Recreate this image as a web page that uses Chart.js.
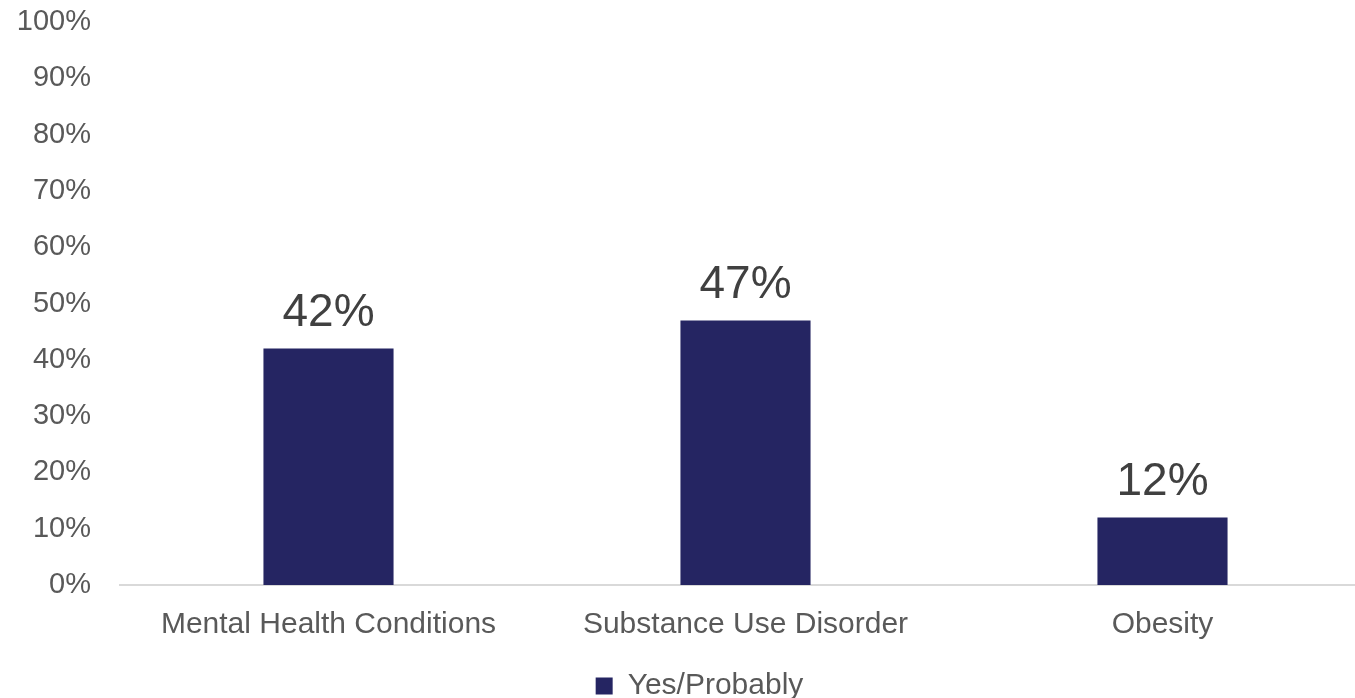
<!DOCTYPE html>
<html>
<head>
<meta charset="utf-8">
<script src="https://cdn.jsdelivr.net/npm/chart.js@4/dist/chart.umd.min.js"></script>
<style>
  html, body { margin: 0; padding: 0; background: #ffffff; overflow: hidden; }
  #wrap { position: relative; width: 1371px; height: 698px; }
</style>
</head>
<body>
<div id="wrap"><canvas id="chart"></canvas></div>
<script>
// Share of respondents answering "Yes/Probably" per condition
const categories = ['Mental Health Conditions', 'Substance Use Disorder', 'Obesity'];
const yesProbably = [42, 47, 12];
const seriesName = 'Yes/Probably';
const yTicks = [0, 10, 20, 30, 40, 50, 60, 70, 80, 90, 100];

const FONT = "'Liberation Sans', Arial, sans-serif";

// Writes the value above each bar, positioned from the bar elements
const valueLabels = {
  id: 'valueLabels',
  afterDatasetsDraw(chart) {
    const { ctx } = chart;
    const meta = chart.getDatasetMeta(0);
    ctx.save();
    ctx.font = '46px ' + FONT;
    ctx.fillStyle = '#404040';
    ctx.textAlign = 'center';
    ctx.textBaseline = 'bottom';
    meta.data.forEach((bar, i) => {
      const v = chart.data.datasets[0].data[i];
      ctx.fillText(v + '%', bar.x, bar.y - 12);
    });
    ctx.restore();
  }
};

// Moves the legend a little to the right, towards the middle of the plot area
const nudgeLegend = {
  id: 'nudgeLegend',
  afterLayout(chart) {
    const lg = chart.legend;
    if (!lg) return;
    const shift = ((chart.chartArea.left + chart.chartArea.right) - (lg.left + lg.right)) / 2 - 46;
    lg.left += shift;
    lg.right += shift;
  }
};

new Chart(document.getElementById('chart'), {
  type: 'bar',
  data: {
    labels: categories,
    datasets: [{
      label: seriesName,
      data: yesProbably,
      backgroundColor: '#252562',
      borderWidth: 0,
      categoryPercentage: 1,
      barPercentage: 0.312
    }]
  },
  options: {
    responsive: true,
    maintainAspectRatio: false,
    animation: false,
    layout: { padding: { top: 0, left: 0, right: 0, bottom: -13 } },
    plugins: {
      legend: {
        position: 'bottom',
        labels: {
          font: { family: FONT, size: 30 },
          color: '#595959',
          boxWidth: 17,
          boxHeight: 17,
          padding: 6
        }
      },
      tooltip: { enabled: false }
    },
    scales: {
      x: {
        grid: { display: false, drawTicks: false },
        border: { display: true, color: '#d9d9d9', width: 2 },
        ticks: {
          font: { family: FONT, size: 30 },
          color: '#595959',
          padding: 22,
          maxRotation: 0
        }
      },
      y: {
        min: 0,
        max: 100,
        afterBuildTicks(axis) { axis.ticks = yTicks.map(v => ({ value: v })); },
        afterFit(axis) {
          axis.width = 120;
          axis.paddingTop = 22;
          axis.paddingBottom = 10;
        },
        grid: { display: false, drawTicks: false },
        border: { display: false },
        ticks: {
          font: { family: FONT, size: 29 },
          color: '#595959',
          padding: 29,
          callback: v => v + '%'
        }
      }
    }
  },
  plugins: [valueLabels, nudgeLegend]
});
</script>
</body>
</html>
